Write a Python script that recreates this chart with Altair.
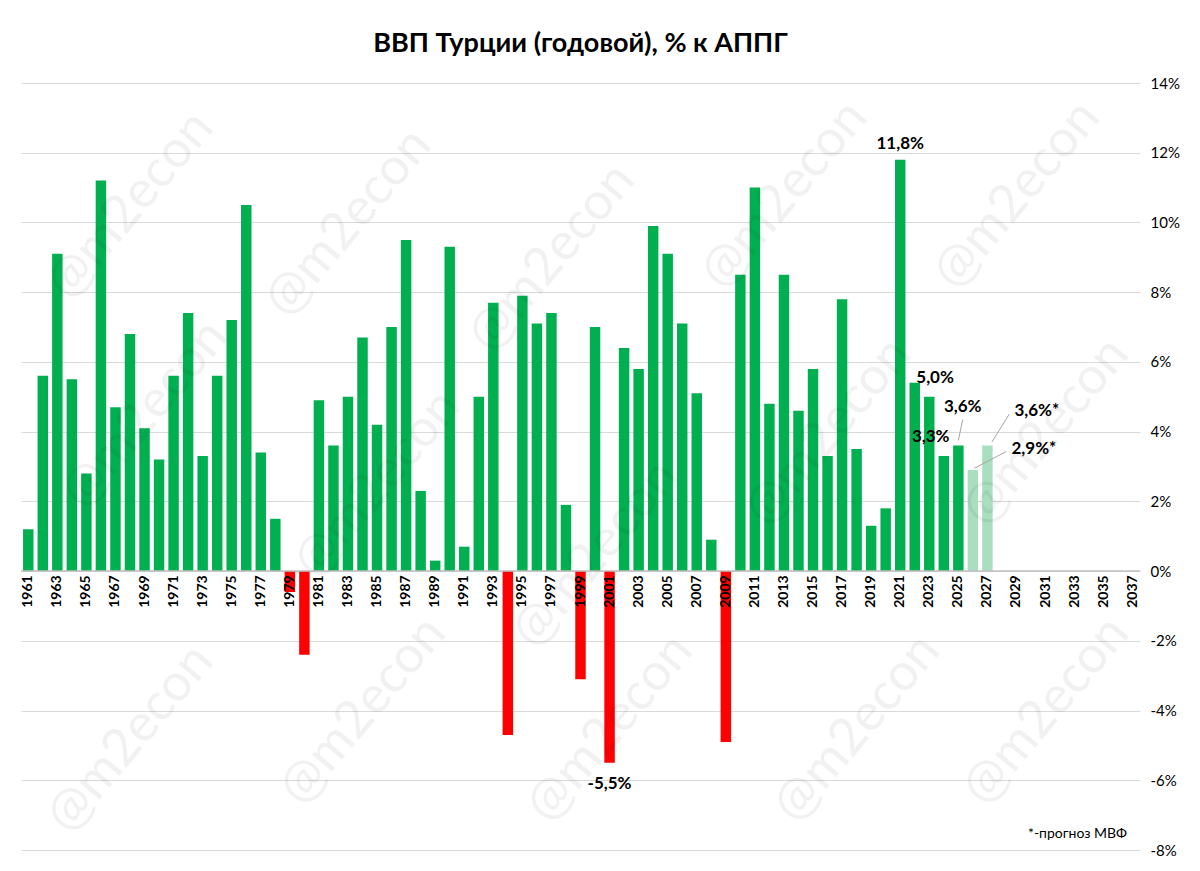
import altair as alt
import pandas as pd

years = list(range(1961, 2028))
gdp = [1.2, 5.6, 9.1, 5.5, 2.8, 11.2, 4.7, 6.8, 4.1, 3.2,
       5.6, 7.4, 3.3, 5.6, 7.2, 10.5, 3.4, 1.5, -0.6, -2.4,
       4.9, 3.6, 5.0, 6.7, 4.2, 7.0, 9.5, 2.3, 0.3, 9.3,
       0.7, 5.0, 7.7, -4.7, 7.9, 7.1, 7.4, 1.9, -3.1, 7.0,
       -5.5, 6.4, 5.8, 9.9, 9.1, 7.1, 5.1, 0.9, -4.9, 8.5,
       11.0, 4.8, 8.5, 4.6, 5.8, 3.3, 7.8, 3.5, 1.3, 1.8,
       11.8, 5.4, 5.0, 3.3, 3.6, 2.9, 3.6]
forecast_years = [2026, 2027]
tick_years = list(range(1961, 2038, 2))

label_x = [2021, 2023.4, 2023.1, 2025.3, 2030.2, 2030.4, 2001]
label_y = [12.25, 5.55, 3.85, 4.7, 3.5, 4.6, -6.1]
label_text = ["11,8%", "5,0%", "3,3%", "3,6%", "2,9%*", "3,6%*", "-5,5%"]

lead_x = [2025.3, 2028.3, 2028.5]
lead_y = [4.35, 3.43, 4.5]
lead_x2 = [2025.0, 2026.1, 2027.3]
lead_y2 = [3.75, 2.95, 3.7]

wm_x = [1968, 1969, 1983, 1985, 1997, 2000, 2013, 2016, 2029, 2031, 1968, 1984, 2001, 2018, 2031]
wm_y = [10.5, 4.5, 10.0, 2.5, 9.0, 0.5, 10.8, 4.0, 10.8, 4.0, -4.8, -4.0, -4.5, -4.5, -4.0]

df = pd.DataFrame({"year": years, "gdp": gdp})
df["kind"] = ["forecast" if y in forecast_years else ("neg" if v < 0 else "pos") for y, v in zip(years, gdp)]
df["x1"] = df["year"] - 0.36
df["x2"] = df["year"] + 0.36
df["base"] = 0.0
ticks = pd.DataFrame({"year": tick_years, "y": [-0.12] * len(tick_years)})
labels = pd.DataFrame({"x": label_x, "y": label_y, "t": label_text})
leads = pd.DataFrame({"x": lead_x, "y": lead_y, "x2": lead_x2, "y2": lead_y2})
wm = pd.DataFrame({"x": wm_x, "y": wm_y, "t": ["@m2econ"] * len(wm_x)})

xs = alt.Scale(domain=[1960.5, 2037.5], nice=False, zero=False)
ys = alt.Scale(domain=[-8, 14], nice=False)
FONT = "Lato"

yaxis = alt.Axis(orient="right", values=list(range(-8, 15, 2)), labelExpr="datum.value + '%'",
                 grid=True, gridColor="#d9d9d9", domain=False, ticks=False, title=None,
                 labelFontSize=15, labelFont=FONT, labelColor="#000", labelPadding=10)

bars = alt.Chart(df).mark_rect().encode(
    x=alt.X("x1:Q", scale=xs, axis=None),
    x2="x2:Q",
    y=alt.Y("gdp:Q", scale=ys, axis=yaxis),
    y2="base:Q",
    color=alt.Color("kind:N", scale=alt.Scale(domain=["pos", "neg", "forecast"],
                                              range=["#00b050", "#ff0000", "#a9dfbf"]), legend=None),
)

watermark = alt.Chart(wm).mark_text(angle=310, fontSize=52, color="#000000", opacity=0.05, font=FONT,
                                    clip=True).encode(
    x=alt.X("x:Q", scale=xs, axis=None), y=alt.Y("y:Q", scale=ys, axis=yaxis), text="t:N")

zero = alt.Chart(pd.DataFrame({"y": [0.0]})).mark_rule(color="#bfbfbf", strokeWidth=1.5).encode(
    y=alt.Y("y:Q", scale=ys, axis=yaxis))

year_text = alt.Chart(ticks).mark_text(angle=270, align="right", baseline="middle", fontSize=14,
                                       fontWeight="bold", font=FONT).encode(
    x=alt.X("year:Q", scale=xs, axis=None), y=alt.Y("y:Q", scale=ys, axis=yaxis), text="year:N")

lead_rules = alt.Chart(leads).mark_rule(color="#a6a6a6", strokeWidth=1).encode(
    x=alt.X("x:Q", scale=xs, axis=None), y=alt.Y("y:Q", scale=ys, axis=yaxis), x2="x2:Q", y2="y2:Q")

label_marks = alt.Chart(labels).mark_text(fontSize=17, font=FONT, fontWeight="bold", color="#000").encode(
    x=alt.X("x:Q", scale=xs, axis=None), y=alt.Y("y:Q", scale=ys, axis=yaxis), text="t:N")

note = alt.Chart(pd.DataFrame({"x": [2033.2], "y": [-7.55], "t": ["*-прогноз МВФ"]})).mark_text(
    fontSize=14, font=FONT).encode(x=alt.X("x:Q", scale=xs, axis=None),
                                   y=alt.Y("y:Q", scale=ys, axis=yaxis), text="t:N")

chart = alt.layer(bars, watermark, zero, year_text, lead_rules, label_marks, note).properties(
    width=1184, height=855,
    autosize=alt.AutoSizeParams(type="fit", contains="padding"),
    title=alt.TitleParams("ВВП Турции (годовой), % к АППГ", fontSize=27, font=FONT, fontWeight="bold",
                          anchor="middle", offset=18),
    padding={"left": 12, "top": 22, "right": 12, "bottom": 5},
    background="white",
).configure_view(stroke=None)

chart.save("out.html", embed_options={"renderer": "svg", "actions": False})
